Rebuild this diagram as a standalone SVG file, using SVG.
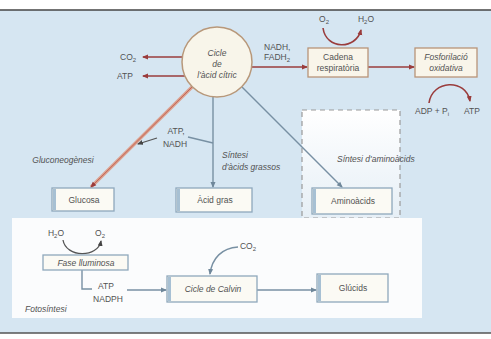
<svg xmlns="http://www.w3.org/2000/svg" width="491" height="339" viewBox="0 0 491 339">
<defs>
<style>
text{font-family:"Liberation Sans",Arial,sans-serif;font-size:8.5px;fill:#525252}
.it{font-style:italic}
.c{text-anchor:middle}
.red{fill:none;stroke:#9a3c3c;stroke-width:1.6}
.gray{fill:none;stroke:#7890a3;stroke-width:1.4}
.dark{fill:none;stroke:#555;stroke-width:1.3}
.bbox{fill:#fbfaf4;stroke:#8ea8bc;stroke-width:1.3}
.rbox{fill:#f9f5ea;stroke:#b89478;stroke-width:1.3}
.bar{fill:#a7c0d3}
</style>
<marker id="ar" markerWidth="6" markerHeight="6" refX="5" refY="3" orient="auto" markerUnits="userSpaceOnUse"><path d="M0,0.5 L6,3 L0,5.5z" fill="#9a3c3c"/></marker>
<marker id="ag" markerWidth="6" markerHeight="6" refX="5" refY="3" orient="auto" markerUnits="userSpaceOnUse"><path d="M0,0.5 L6,3 L0,5.5z" fill="#6f879a"/></marker>
<marker id="ad" markerWidth="6" markerHeight="6" refX="5" refY="3" orient="auto" markerUnits="userSpaceOnUse"><path d="M0,0.5 L6,3 L0,5.5z" fill="#444"/></marker>
<linearGradient id="dg" x1="0" y1="0" x2="0" y2="1"><stop offset="0" stop-color="#ffffff"/><stop offset="1" stop-color="#e6eff6"/></linearGradient>
</defs>
<rect x="0" y="0" width="491" height="339" fill="#ffffff"/>
<rect x="0" y="10" width="491" height="323" fill="#d6e6f2"/>
<line x1="0" y1="10" x2="491" y2="10" stroke="#444" stroke-width="1.5"/>
<line x1="0" y1="333" x2="491" y2="333" stroke="#555" stroke-width="1.5"/>
<rect x="302" y="110" width="98" height="108" fill="url(#dg)" stroke="#9a9a9a" stroke-width="1.2" stroke-dasharray="5,4"/>
<rect x="12" y="218" width="410" height="100" fill="#fbfcfd"/>

<g id="connectors">
<line class="red" x1="182" y1="57" x2="143" y2="57" marker-end="url(#ar)"/>
<line class="red" x1="185" y1="76" x2="143" y2="76" marker-end="url(#ar)"/>
<line class="red" x1="252" y1="67" x2="307" y2="67" stroke="#8a2e44" marker-end="url(#ar)"/>
<path class="red" d="M323,28 C326,50 356,50 361,30" marker-end="url(#ar)"/>
<line class="red" x1="368" y1="67" x2="414" y2="67" marker-end="url(#ar)"/>
<path class="red" d="M429,103 C432,80 466,78 470,101" marker-end="url(#ar)"/>
<line x1="192" y1="87" x2="91" y2="187" stroke="#dca08d" stroke-width="3.2"/>
<line x1="192" y1="87" x2="91" y2="187" stroke="#b9554a" stroke-width="0.8" marker-end="url(#ar)"/>
<line class="dark" x1="157" y1="138" x2="138" y2="144" marker-end="url(#ad)"/>
<line class="gray" x1="188" y1="137" x2="213" y2="143"/>
<line class="gray" x1="213" y1="97" x2="213" y2="187" marker-end="url(#ag)"/>
<line class="gray" x1="242" y1="87" x2="342" y2="187" marker-end="url(#ag)"/>
<path class="dark" d="M63,240 C66,258 98,258 101,241" marker-end="url(#ad)"/>
<path class="gray" d="M82,270 V289 H92"/>
<line class="gray" x1="127" y1="290" x2="166" y2="290" marker-end="url(#ag)"/>
<path class="gray" d="M238,247 C222,248 212,258 210,274" marker-end="url(#ag)"/>
<line class="gray" x1="257" y1="290" x2="316" y2="290" marker-end="url(#ag)"/>
</g>

<g id="krebs">
<circle cx="217" cy="62" r="35" fill="#f8f5ea" stroke="#b8987a" stroke-width="1.5"/>
<text class="c it" x="217" y="56">Cicle</text>
<text class="c it" x="217" y="67">de</text>
<text class="c it" x="217" y="78">l'àcid cítric</text>
</g>
<g id="co2-atp">
<text x="120" y="60">CO<tspan font-size="6" dy="2">2</tspan></text>
<text x="117" y="79">ATP</text>
</g>
<g id="nadh">
<text x="264" y="50">NADH,</text>
<text x="264" y="60">FADH<tspan font-size="6" dy="2">2</tspan></text>
</g>
<g id="cadena">
<rect class="rbox" x="308" y="48" width="60" height="29"/>
<text class="c" x="338" y="60">Cadena</text>
<text class="c" x="338" y="71">respiratòria</text>
<text class="c" x="324" y="22">O<tspan font-size="6" dy="2">2</tspan></text>
<text class="c" x="366" y="22">H<tspan font-size="6" dy="2">2</tspan><tspan dy="-2">O</tspan></text>
</g>
<g id="fosforilacio">
<rect class="rbox" x="415" y="48" width="62" height="29"/>
<text class="c it" x="446" y="60">Fosforilació</text>
<text class="c it" x="446" y="71">oxidativa</text>
<text class="c" x="432" y="114">ADP + P<tspan font-size="6" dy="2">i</tspan></text>
<text class="c" x="472" y="114">ATP</text>
</g>
<g id="atp-nadh">
<text class="c" x="176" y="134">ATP,</text>
<text class="c" x="175" y="147">NADH</text>
</g>
<g id="labels">
<text class="c it" x="63" y="163">Gluconeogènesi</text>
<text class="it" x="222" y="158">Síntesi</text>
<text class="it" x="222" y="170">d'àcids grassos</text>
<text class="it" x="337" y="162">Síntesi d'aminoàcids</text>
<text class="it" x="25" y="312">Fotosíntesi</text>
</g>
<g id="glucosa">
<rect class="bbox" x="52" y="188" width="62" height="23"/>
<rect class="bar" x="53" y="189" width="3" height="21"/>
<text class="c" x="84" y="203">Glucosa</text>
</g>
<g id="acid-gras">
<rect class="bbox" x="176" y="188" width="76" height="24"/>
<rect class="bar" x="177" y="189" width="3" height="22"/>
<text class="c" x="215" y="203">Àcid gras</text>
</g>
<g id="aminoacids">
<rect class="bbox" x="312" y="188" width="80" height="26"/>
<rect class="bar" x="313" y="189" width="3" height="24"/>
<text class="c" x="353" y="204">Aminoàcids</text>
</g>
<g id="fase">
<rect class="bbox" x="43" y="255" width="85" height="15"/>
<text class="c it" x="86" y="266">Fase lluminosa</text>
<text class="c" x="56" y="236">H<tspan font-size="6" dy="2">2</tspan><tspan dy="-2">O</tspan></text>
<text class="c" x="100" y="236">O<tspan font-size="6" dy="2">2</tspan></text>
<text class="c" x="106" y="289">ATP</text>
<text class="c" x="108" y="302">NADPH</text>
</g>
<g id="calvin">
<rect class="bbox" x="167" y="276" width="90" height="26"/>
<rect class="bar" x="168" y="277" width="3" height="24"/>
<text class="c it" x="213" y="292">Cicle de Calvin</text>
<text class="c" x="248" y="249">CO<tspan font-size="6" dy="2">2</tspan></text>
</g>
<g id="glucids">
<rect class="bbox" x="317" y="274" width="71" height="28"/>
<rect class="bar" x="318" y="275" width="3" height="26"/>
<text class="c" x="353" y="291">Glúcids</text>
</g>
</svg>
